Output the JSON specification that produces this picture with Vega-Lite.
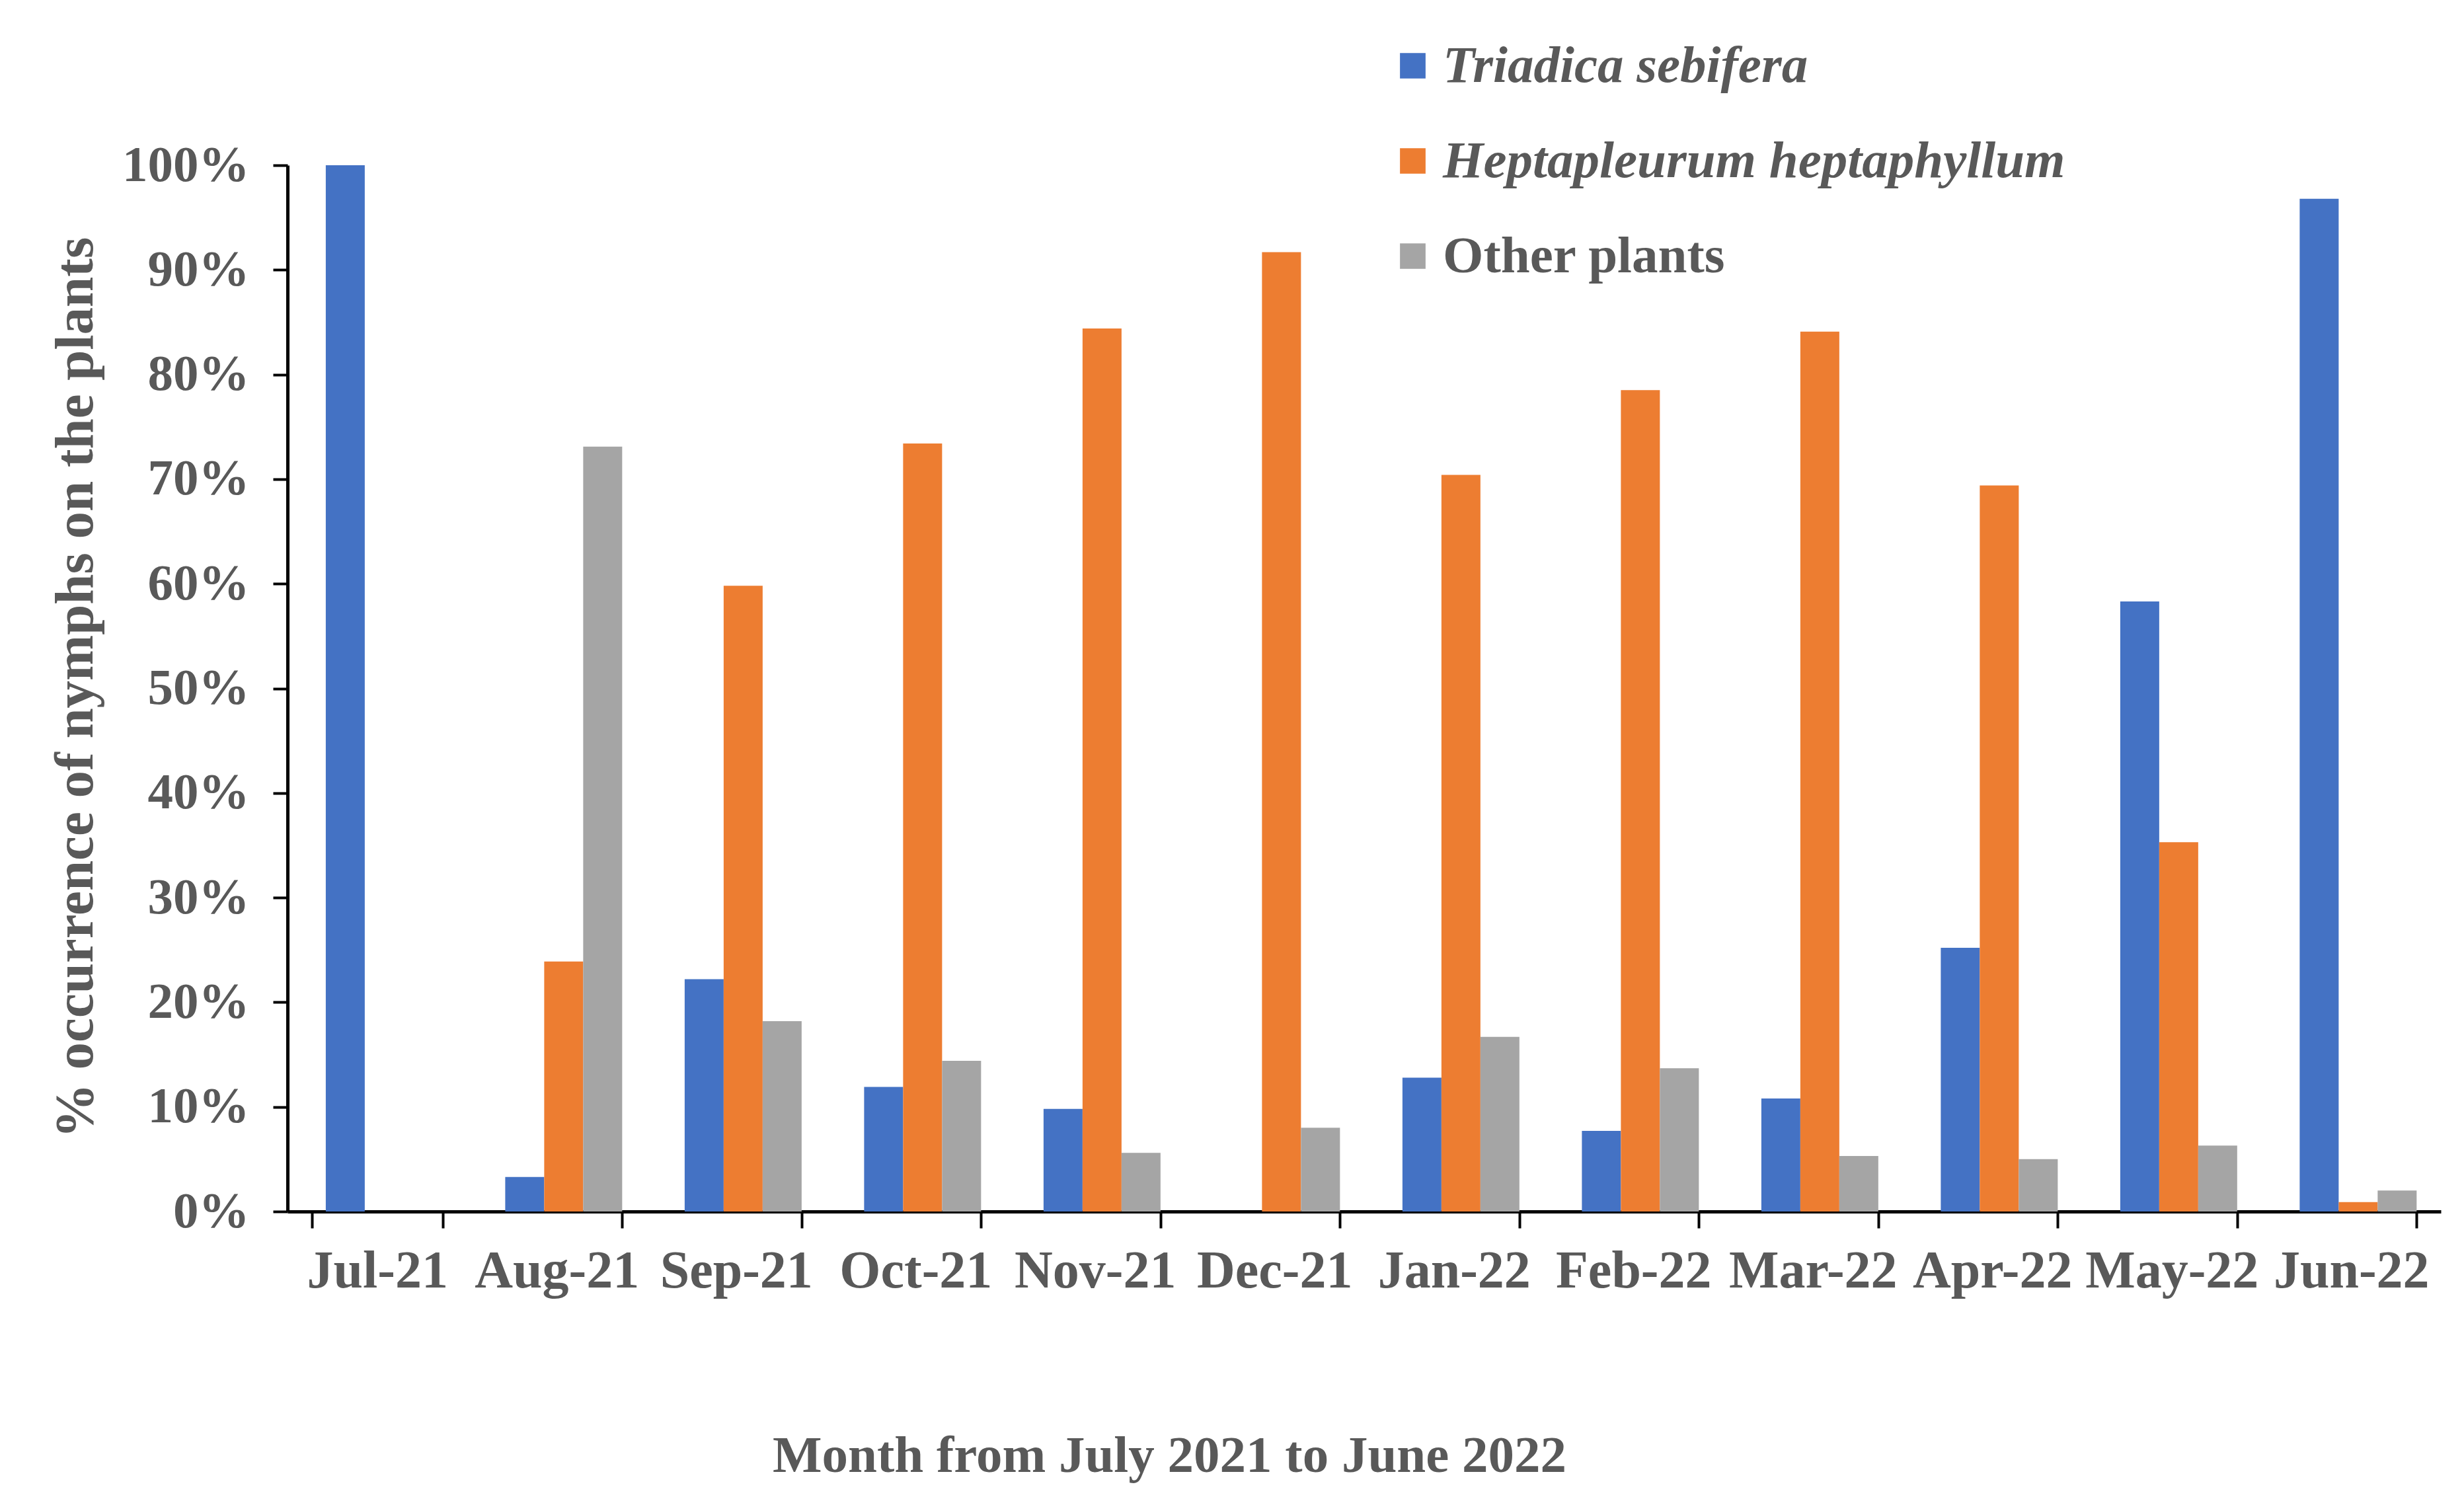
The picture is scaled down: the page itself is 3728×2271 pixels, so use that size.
{
  "$schema": "https://vega.github.io/schema/vega-lite/v6.json",
  "width": 3258,
  "height": 1583,
  "autosize": {"type": "none"},
  "padding": {"left": 435, "top": 250, "right": 35, "bottom": 438},
  "background": "white",
  "config": {
    "view": {"stroke": null},
    "font": "Liberation Serif"
  },
  "data": {
    "values": [
      {"month": "Jul-21", "plant": "Triadica sebifera", "pct": 1.0},
      {"month": "Jul-21", "plant": "Heptapleurum heptaphyllum", "pct": 0.0},
      {"month": "Jul-21", "plant": "Other plants", "pct": 0.0},
      {"month": "Aug-21", "plant": "Triadica sebifera", "pct": 0.033},
      {"month": "Aug-21", "plant": "Heptapleurum heptaphyllum", "pct": 0.239},
      {"month": "Aug-21", "plant": "Other plants", "pct": 0.731},
      {"month": "Sep-21", "plant": "Triadica sebifera", "pct": 0.222},
      {"month": "Sep-21", "plant": "Heptapleurum heptaphyllum", "pct": 0.598},
      {"month": "Sep-21", "plant": "Other plants", "pct": 0.182},
      {"month": "Oct-21", "plant": "Triadica sebifera", "pct": 0.119},
      {"month": "Oct-21", "plant": "Heptapleurum heptaphyllum", "pct": 0.734},
      {"month": "Oct-21", "plant": "Other plants", "pct": 0.144},
      {"month": "Nov-21", "plant": "Triadica sebifera", "pct": 0.098},
      {"month": "Nov-21", "plant": "Heptapleurum heptaphyllum", "pct": 0.844},
      {"month": "Nov-21", "plant": "Other plants", "pct": 0.056},
      {"month": "Dec-21", "plant": "Triadica sebifera", "pct": 0.0},
      {"month": "Dec-21", "plant": "Heptapleurum heptaphyllum", "pct": 0.917},
      {"month": "Dec-21", "plant": "Other plants", "pct": 0.080},
      {"month": "Jan-22", "plant": "Triadica sebifera", "pct": 0.128},
      {"month": "Jan-22", "plant": "Heptapleurum heptaphyllum", "pct": 0.704},
      {"month": "Jan-22", "plant": "Other plants", "pct": 0.167},
      {"month": "Feb-22", "plant": "Triadica sebifera", "pct": 0.077},
      {"month": "Feb-22", "plant": "Heptapleurum heptaphyllum", "pct": 0.785},
      {"month": "Feb-22", "plant": "Other plants", "pct": 0.137},
      {"month": "Mar-22", "plant": "Triadica sebifera", "pct": 0.108},
      {"month": "Mar-22", "plant": "Heptapleurum heptaphyllum", "pct": 0.841},
      {"month": "Mar-22", "plant": "Other plants", "pct": 0.053},
      {"month": "Apr-22", "plant": "Triadica sebifera", "pct": 0.252},
      {"month": "Apr-22", "plant": "Heptapleurum heptaphyllum", "pct": 0.694},
      {"month": "Apr-22", "plant": "Other plants", "pct": 0.050},
      {"month": "May-22", "plant": "Triadica sebifera", "pct": 0.583},
      {"month": "May-22", "plant": "Heptapleurum heptaphyllum", "pct": 0.353},
      {"month": "May-22", "plant": "Other plants", "pct": 0.063},
      {"month": "Jun-22", "plant": "Triadica sebifera", "pct": 0.968},
      {"month": "Jun-22", "plant": "Heptapleurum heptaphyllum", "pct": 0.009},
      {"month": "Jun-22", "plant": "Other plants", "pct": 0.020}
    ]
  },
  "mark": {"type": "bar"},
  "encoding": {
    "x": {
      "field": "month",
      "type": "nominal",
      "sort": null,
      "scale": {"paddingInner": 0.27, "paddingOuter": 0.135},
      "axis": {
        "title": "Month from July 2021 to June 2022",
        "titleFont": "Liberation Serif",
        "titleFontSize": 79,
        "titleFontWeight": "bold",
        "titleColor": "#595959",
        "titleX": 1334,
        "titleY": 369,
        "titleBaseline": "middle",
        "labelAngle": 0,
        "labelFont": "Liberation Serif",
        "labelFontSize": 80,
        "labelFontWeight": "bold",
        "labelColor": "#595959",
        "labelPadding": 26,
        "labelLimit": 1000,
        "labelOverlap": false,
        "tickBand": "extent",
        "tickSize": 25,
        "tickWidth": 4,
        "tickColor": "black",
        "domainColor": "black",
        "domainWidth": 5,
        "grid": false
      }
    },
    "xOffset": {
      "field": "plant",
      "type": "nominal",
      "sort": ["Triadica sebifera", "Heptapleurum heptaphyllum", "Other plants"],
      "scale": {"paddingInner": 0, "paddingOuter": 0.18, "align": 1}
    },
    "y": {
      "field": "pct",
      "type": "quantitative",
      "scale": {"domain": [0, 1], "nice": false},
      "axis": {
        "title": "% occurrence of nymphs on the plants",
        "titleFont": "Liberation Serif",
        "titleFontSize": 83,
        "titleFontWeight": "bold",
        "titleColor": "#595959",
        "titleX": -321,
        "titleY": 790,
        "titleBaseline": "middle",
        "titleAngle": -90,
        "titleLimit": 3000,
        "format": ".0%",
        "values": [0, 0.1, 0.2, 0.3, 0.4, 0.5, 0.6, 0.7, 0.8, 0.9, 1.0],
        "labelFont": "Liberation Serif",
        "labelFontSize": 77,
        "labelFontWeight": "bold",
        "labelColor": "#595959",
        "labelPadding": 36,
        "labelLimit": 1000,
        "tickSize": 22,
        "tickWidth": 4,
        "tickColor": "black",
        "domainColor": "black",
        "domainWidth": 5,
        "grid": false
      }
    },
    "color": {
      "field": "plant",
      "type": "nominal",
      "sort": ["Triadica sebifera", "Heptapleurum heptaphyllum", "Other plants"],
      "scale": {
        "domain": ["Triadica sebifera", "Heptapleurum heptaphyllum", "Other plants"],
        "range": ["#4472C4", "#ED7D31", "#A5A5A5"]
      },
      "legend": {
        "title": null,
        "orient": "none",
        "legendX": 1663,
        "legendY": -190,
        "symbolType": "square",
        "symbolSize": 1500,
        "symbolStrokeWidth": 0,
        "labelFont": "Liberation Serif",
        "labelFontSize": 79,
        "labelFontWeight": "bold",
        "labelColor": "#595959",
        "labelOffset": 6,
        "labelLimit": 2000,
        "rowPadding": 64,
        "encode": {
          "labels": {
            "update": {
              "fontStyle": {"signal": "datum.label === 'Other plants' ? 'normal' : 'italic'"}
            }
          }
        }
      }
    }
  }
}
